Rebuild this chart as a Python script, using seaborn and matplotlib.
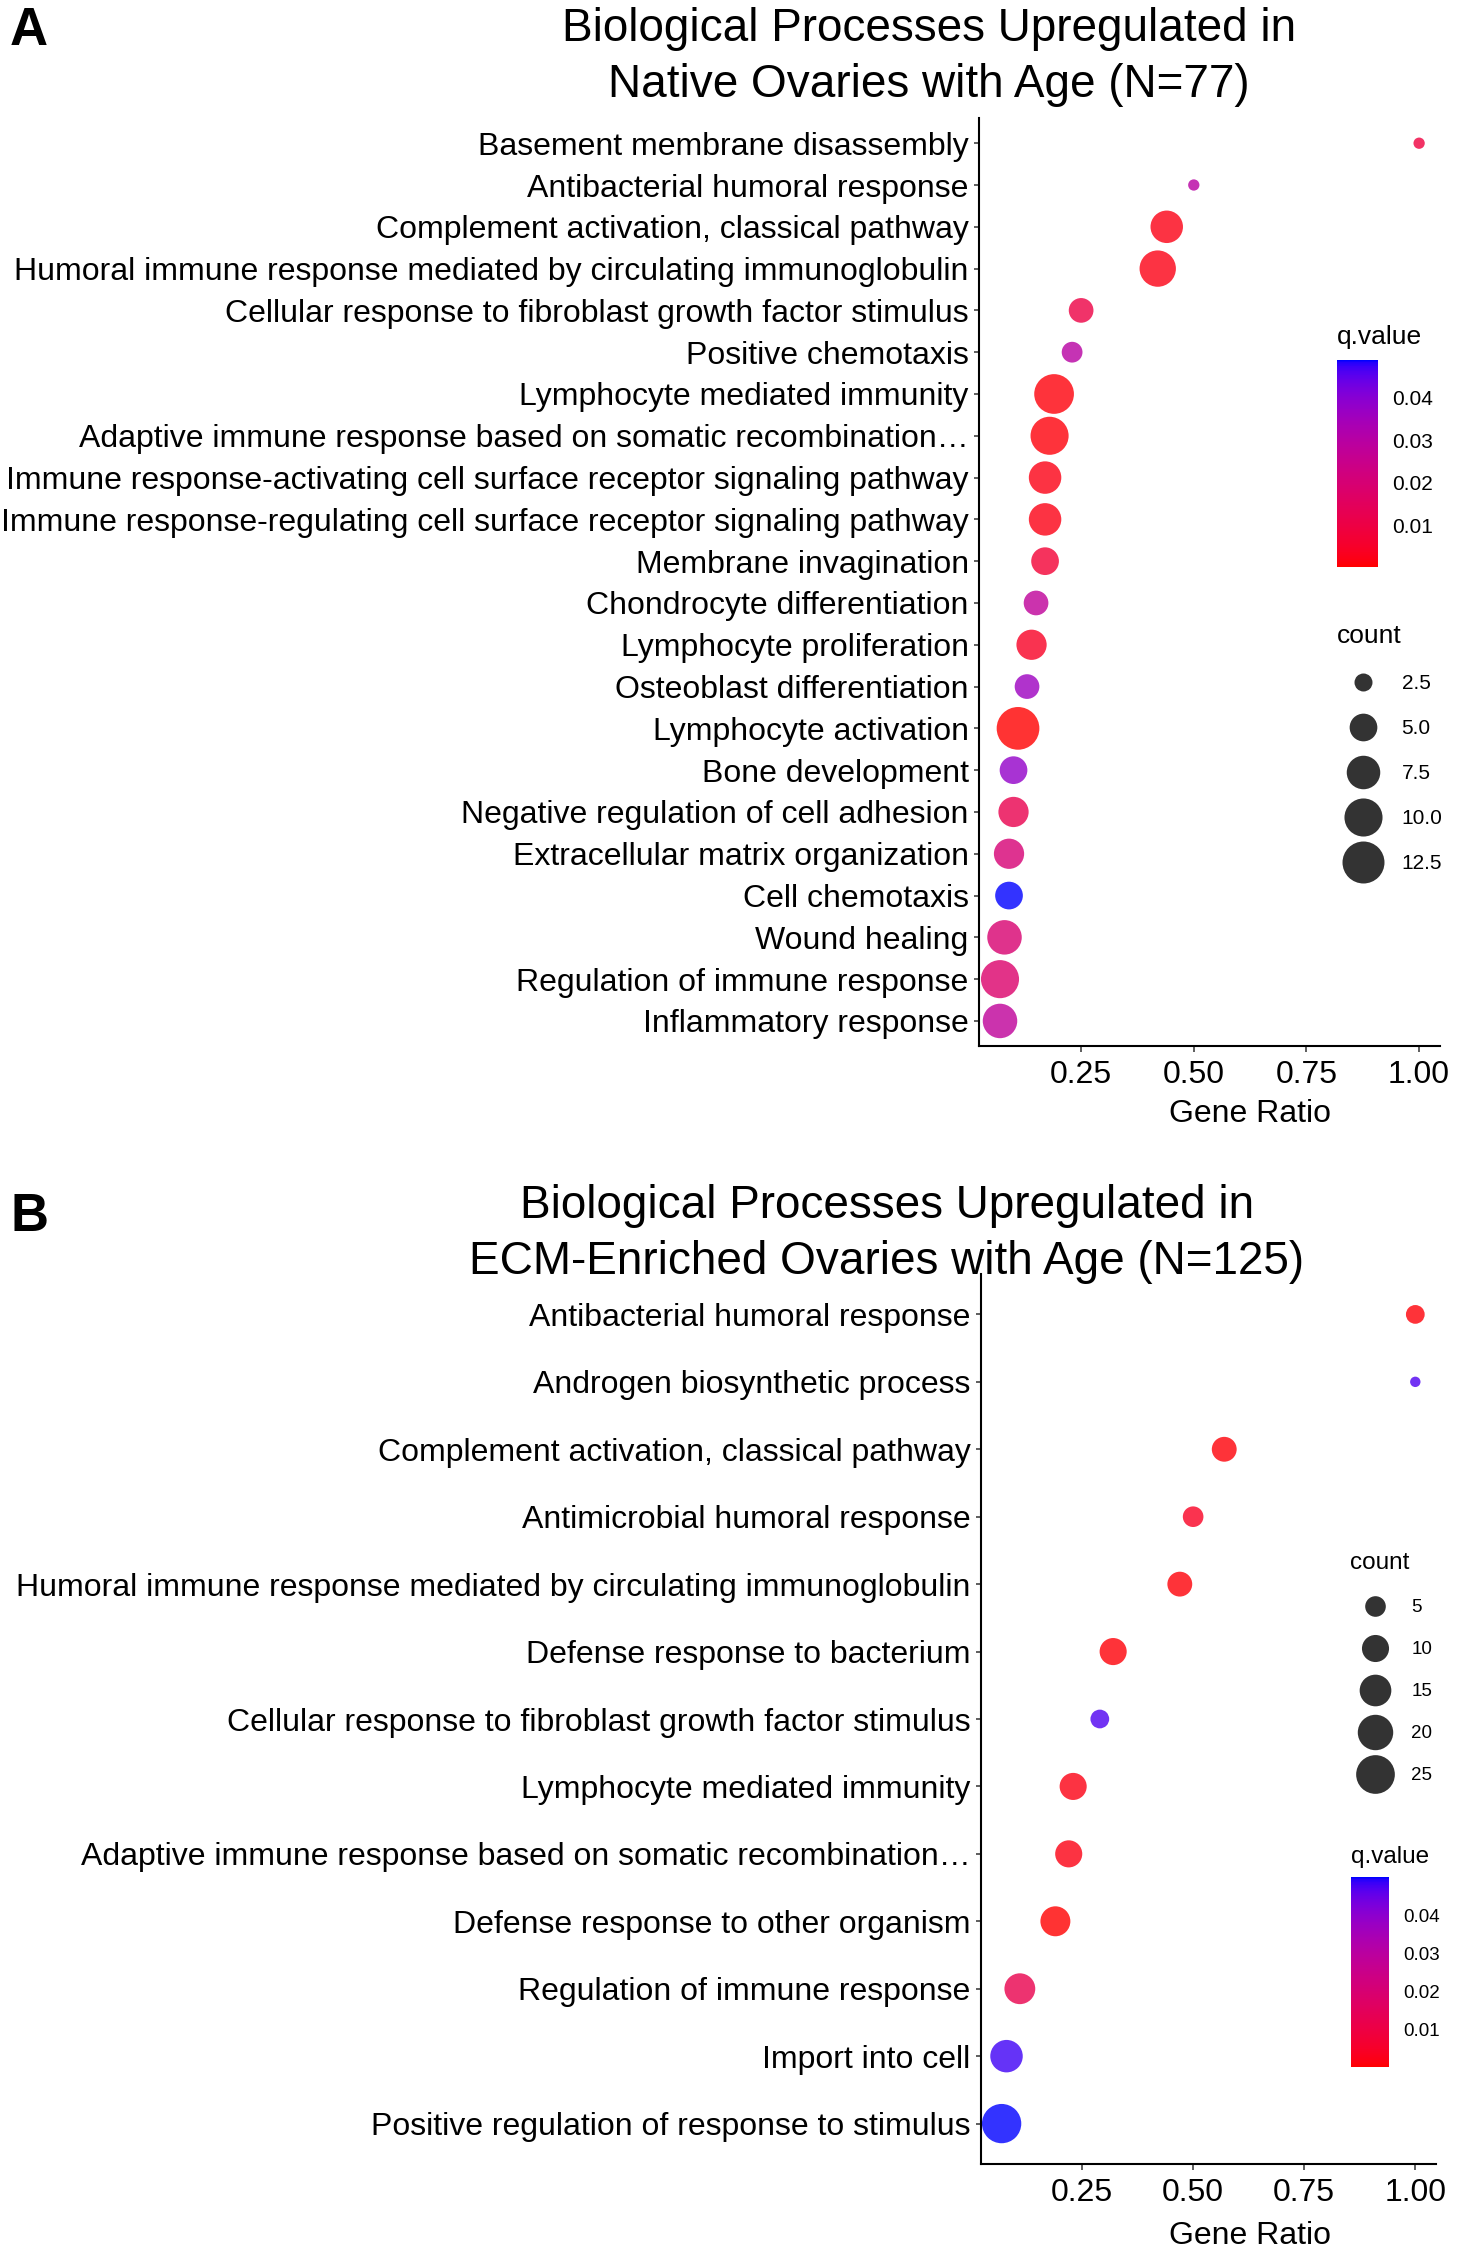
import numpy as np
import pandas as pd
import matplotlib
matplotlib.use("Agg")
import matplotlib.pyplot as plt
from matplotlib.colors import ListedColormap, Normalize
from matplotlib.lines import Line2D
import matplotlib.cm as cm
import seaborn as sns

DPI = 100

# ---- Panel A: native ovaries ----
terms_a = [
    "Basement membrane disassembly",
    "Antibacterial humoral response",
    "Complement activation, classical pathway",
    "Humoral immune response mediated by circulating immunoglobulin",
    "Cellular response to fibroblast growth factor stimulus",
    "Positive chemotaxis",
    "Lymphocyte mediated immunity",
    "Adaptive immune response based on somatic recombination\u2026",
    "Immune response-activating cell surface receptor signaling pathway",
    "Immune response-regulating cell surface receptor signaling pathway",
    "Membrane invagination",
    "Chondrocyte differentiation",
    "Lymphocyte proliferation",
    "Osteoblast differentiation",
    "Lymphocyte activation",
    "Bone development",
    "Negative regulation of cell adhesion",
    "Extracellular matrix organization",
    "Cell chemotaxis",
    "Wound healing",
    "Regulation of immune response",
    "Inflammatory response",
]
ratio_a = [1.00, 0.50, 0.44, 0.42, 0.25, 0.23, 0.19, 0.18, 0.17, 0.17, 0.17,
           0.15, 0.14, 0.13, 0.11, 0.10, 0.10, 0.09, 0.09, 0.08, 0.07, 0.07]
count_a = [2, 2, 7, 9, 4, 3, 11, 10, 7, 7, 5,
           4, 6, 4, 13, 5, 6, 6, 5, 8, 10, 8]
qval_a = [0.009, 0.030, 0.002, 0.002, 0.010, 0.030, 0.001, 0.001, 0.002, 0.002, 0.007,
          0.028, 0.004, 0.036, 0.0001, 0.038, 0.012, 0.020, 0.0489, 0.019, 0.018, 0.028]
size_breaks_a = [2.5, 5.0, 7.5, 10.0, 12.5]

# ---- Panel B: ECM-enriched ovaries ----
terms_b = [
    "Antibacterial humoral response",
    "Androgen biosynthetic process",
    "Complement activation, classical pathway",
    "Antimicrobial humoral response",
    "Humoral immune response mediated by circulating immunoglobulin",
    "Defense response to bacterium",
    "Cellular response to fibroblast growth factor stimulus",
    "Lymphocyte mediated immunity",
    "Adaptive immune response based on somatic recombination\u2026",
    "Defense response to other organism",
    "Regulation of immune response",
    "Import into cell",
    "Positive regulation of response to stimulus",
]
ratio_b = [1.00, 1.00, 0.57, 0.50, 0.47, 0.32, 0.29, 0.23, 0.22, 0.19, 0.11, 0.08, 0.069]
count_b = [4, 2, 8, 5, 8, 10, 4, 10, 10, 13, 14, 16, 26]
qval_b = [0.001, 0.047, 0.001, 0.004, 0.001, 0.001, 0.047, 0.002, 0.002, 0.0003,
          0.012, 0.048, 0.0499]
size_breaks_b = [5, 10, 15, 20, 25]
q_ticks = [0.01, 0.02, 0.03, 0.04]
x_ticks = [0.25, 0.50, 0.75, 1.00]


def lab_red_blue(n=256):
    """red -> blue ramp interpolated in CIELAB (like ggplot's gradient)"""
    red = np.array([53.2408, 80.0925, 67.2032])
    blue = np.array([32.2970, 79.1875, -107.8602])
    t = np.linspace(0, 1, n)[:, None]
    L, a, b = (red * (1 - t) + blue * t).T
    fy = (L + 16) / 116
    fx = fy + a / 500
    fz = fy - b / 200

    def finv(f):
        return np.where(f > 6 / 29, f ** 3, 3 * (6 / 29) ** 2 * (f - 4 / 29))

    X, Y, Z = 0.95047 * finv(fx), finv(fy), 1.08883 * finv(fz)
    R = 3.2406 * X - 1.5372 * Y - 0.4986 * Z
    G = -0.9689 * X + 1.8758 * Y + 0.0415 * Z
    B = 0.0557 * X - 0.2040 * Y + 1.0570 * Z
    rgb = np.clip(np.stack([R, G, B], axis=1), 0, 1)
    rgb = np.where(rgb <= 0.0031308, 12.92 * rgb, 1.055 * rgb ** (1 / 2.4) - 0.055)
    return ListedColormap(np.clip(rgb, 0, 1))


def gg_diam(v, vmin, vmax, k):
    # ggplot-like area palette (size 1..6 plus stroke), as marker diameter in points
    size = 1 + 5 * np.sqrt((v - vmin) / (vmax - vmin))
    r_px = k * (size + 0.8)
    return 2 * r_px * 72 / DPI


cmap = lab_red_blue()

sns.set_theme(style="ticks")
plt.rcParams['font.family'] = ['Liberation Sans', 'DejaVu Sans']
plt.rcParams['text.color'] = 'black'
plt.rcParams['axes.labelcolor'] = 'black'

fig = plt.figure(figsize=(14.58, 22.5), dpi=DPI)


def dot_panel(ax, terms, ratio, count, qval, k):
    df = pd.DataFrame({"term": terms, "ratio": ratio, "count": count, "q": qval})
    cmin, cmax = min(count), max(count)
    sizes = {c: gg_diam(c, cmin, cmax, k) ** 2 for c in sorted(set(count))}
    norm = Normalize(min(qval), max(qval))
    sns.scatterplot(data=df, x="ratio", y="term", hue="q", size="count",
                    palette=cmap, hue_norm=norm, sizes=sizes, alpha=0.8,
                    linewidth=0, legend=False, ax=ax)
    lo, hi = min(ratio), max(ratio)
    pad = 0.05 * (hi - lo)
    ax.set_xlim(lo - pad, hi + pad)
    ax.set_ylim(len(terms) - 1 + 0.6, -0.6)
    ax.set_xticks(x_ticks)
    ax.set_xticklabels([f"{t:.2f}" for t in x_ticks])
    ax.set_ylabel("")
    ax.set_xlabel("Gene Ratio", fontsize=23, color="black")
    sns.despine(ax=ax)
    for s in ["left", "bottom"]:
        ax.spines[s].set_linewidth(1.5)
        ax.spines[s].set_color("black")
    ax.tick_params(axis="y", labelsize=23, length=3.5, width=1.1,
                   color="#333333", pad=4, labelcolor="black")
    ax.tick_params(axis="x", labelsize=23, length=4, width=1.1,
                   color="#333333", pad=6, labelcolor="black")
    return norm, cmin, cmax


def q_colorbar(rect, norm, fs):
    cax = fig.add_axes(rect)
    sm = cm.ScalarMappable(norm=norm, cmap=cmap)
    cb = fig.colorbar(sm, cax=cax)
    cb.outline.set_visible(False)
    cb.set_ticks(q_ticks)
    cb.set_ticklabels([f"{t:.2f}" for t in q_ticks])
    cax.tick_params(left=True, right=True, labelleft=False, labelright=True,
                    direction="in", length=5, width=1, color="white",
                    labelcolor="black", labelsize=fs, pad=10)
    return cax


def count_legend(ax, breaks, labels, cmin, cmax, k, anchor, fs, tfs, hl, sp):
    handles = [Line2D([], [], marker="o", linestyle="", color="black", alpha=0.8,
                      markeredgewidth=0, markersize=gg_diam(b, cmin, cmax, k))
               for b in breaks]
    leg = ax.legend(handles, labels, title="count", loc="upper left",
                    bbox_to_anchor=anchor, bbox_transform=fig.transFigure,
                    frameon=False, fontsize=fs, title_fontsize=tfs,
                    alignment="left", handlelength=hl, handletextpad=0.6,
                    labelspacing=sp, borderpad=0, borderaxespad=0)
    return leg


# ---- Panel A ----
axA = fig.add_axes([0.6715, 0.5351, 0.3162, 0.4124])
normA, cminA, cmaxA = dot_panel(axA, terms_a, ratio_a, count_a, qval_a, 3.14)
axA.xaxis.set_label_coords(0.588, -0.0576)
q_colorbar([0.9170, 0.748, 0.0281, 0.092], normA, 15)
fig.text(1337 / 1458, 1 - 337 / 2250, "q.value", fontsize=19, ha="left", va="center")
count_legend(axA, size_breaks_a, [f"{b:.1f}" for b in size_breaks_a], cminA, cmaxA, 3.14,
             (1337 / 1458, 1 - 624 / 2250), 15, 19, 2.5, 1.25)
fig.text(929 / 1458, 1 - 57 / 2250,
         "Biological Processes Upregulated in\nNative Ovaries with Age (N=77)",
         fontsize=33, ha="center", va="center", multialignment="center",
         linespacing=1.33)
fig.text(29 / 1458, 1 - 31 / 2250, "A", fontsize=38, fontweight="bold",
         ha="center", va="center")

# ---- Panel B ----
axB = fig.add_axes([0.6728, 0.0382, 0.3121, 0.3956])
normB, cminB, cmaxB = dot_panel(axB, terms_b, ratio_b, count_b, qval_b, 2.89)
axB.xaxis.set_label_coords(0.592, -0.0635)
q_colorbar([0.9266, 0.0813, 0.0261, 0.0844], normB, 13.5)
fig.text(1351 / 1458, 1 - 1857 / 2250, "q.value", fontsize=17.5, ha="left", va="center")
count_legend(axB, size_breaks_b, [str(b) for b in size_breaks_b], cminB, cmaxB, 2.89,
             (1350 / 1458, 1 - 1552 / 2250), 13.5, 17.5, 2.67, 1.33)
fig.text(887 / 1458, 1 - 1234 / 2250,
         "Biological Processes Upregulated in\nECM-Enriched Ovaries with Age (N=125)",
         fontsize=33, ha="center", va="center", multialignment="center",
         linespacing=1.33)
fig.text(29 / 1458, 1 - 1217 / 2250, "B", fontsize=38, fontweight="bold",
         ha="center", va="center")

fig.savefig("out.png", dpi=DPI)
plt.close(fig)
